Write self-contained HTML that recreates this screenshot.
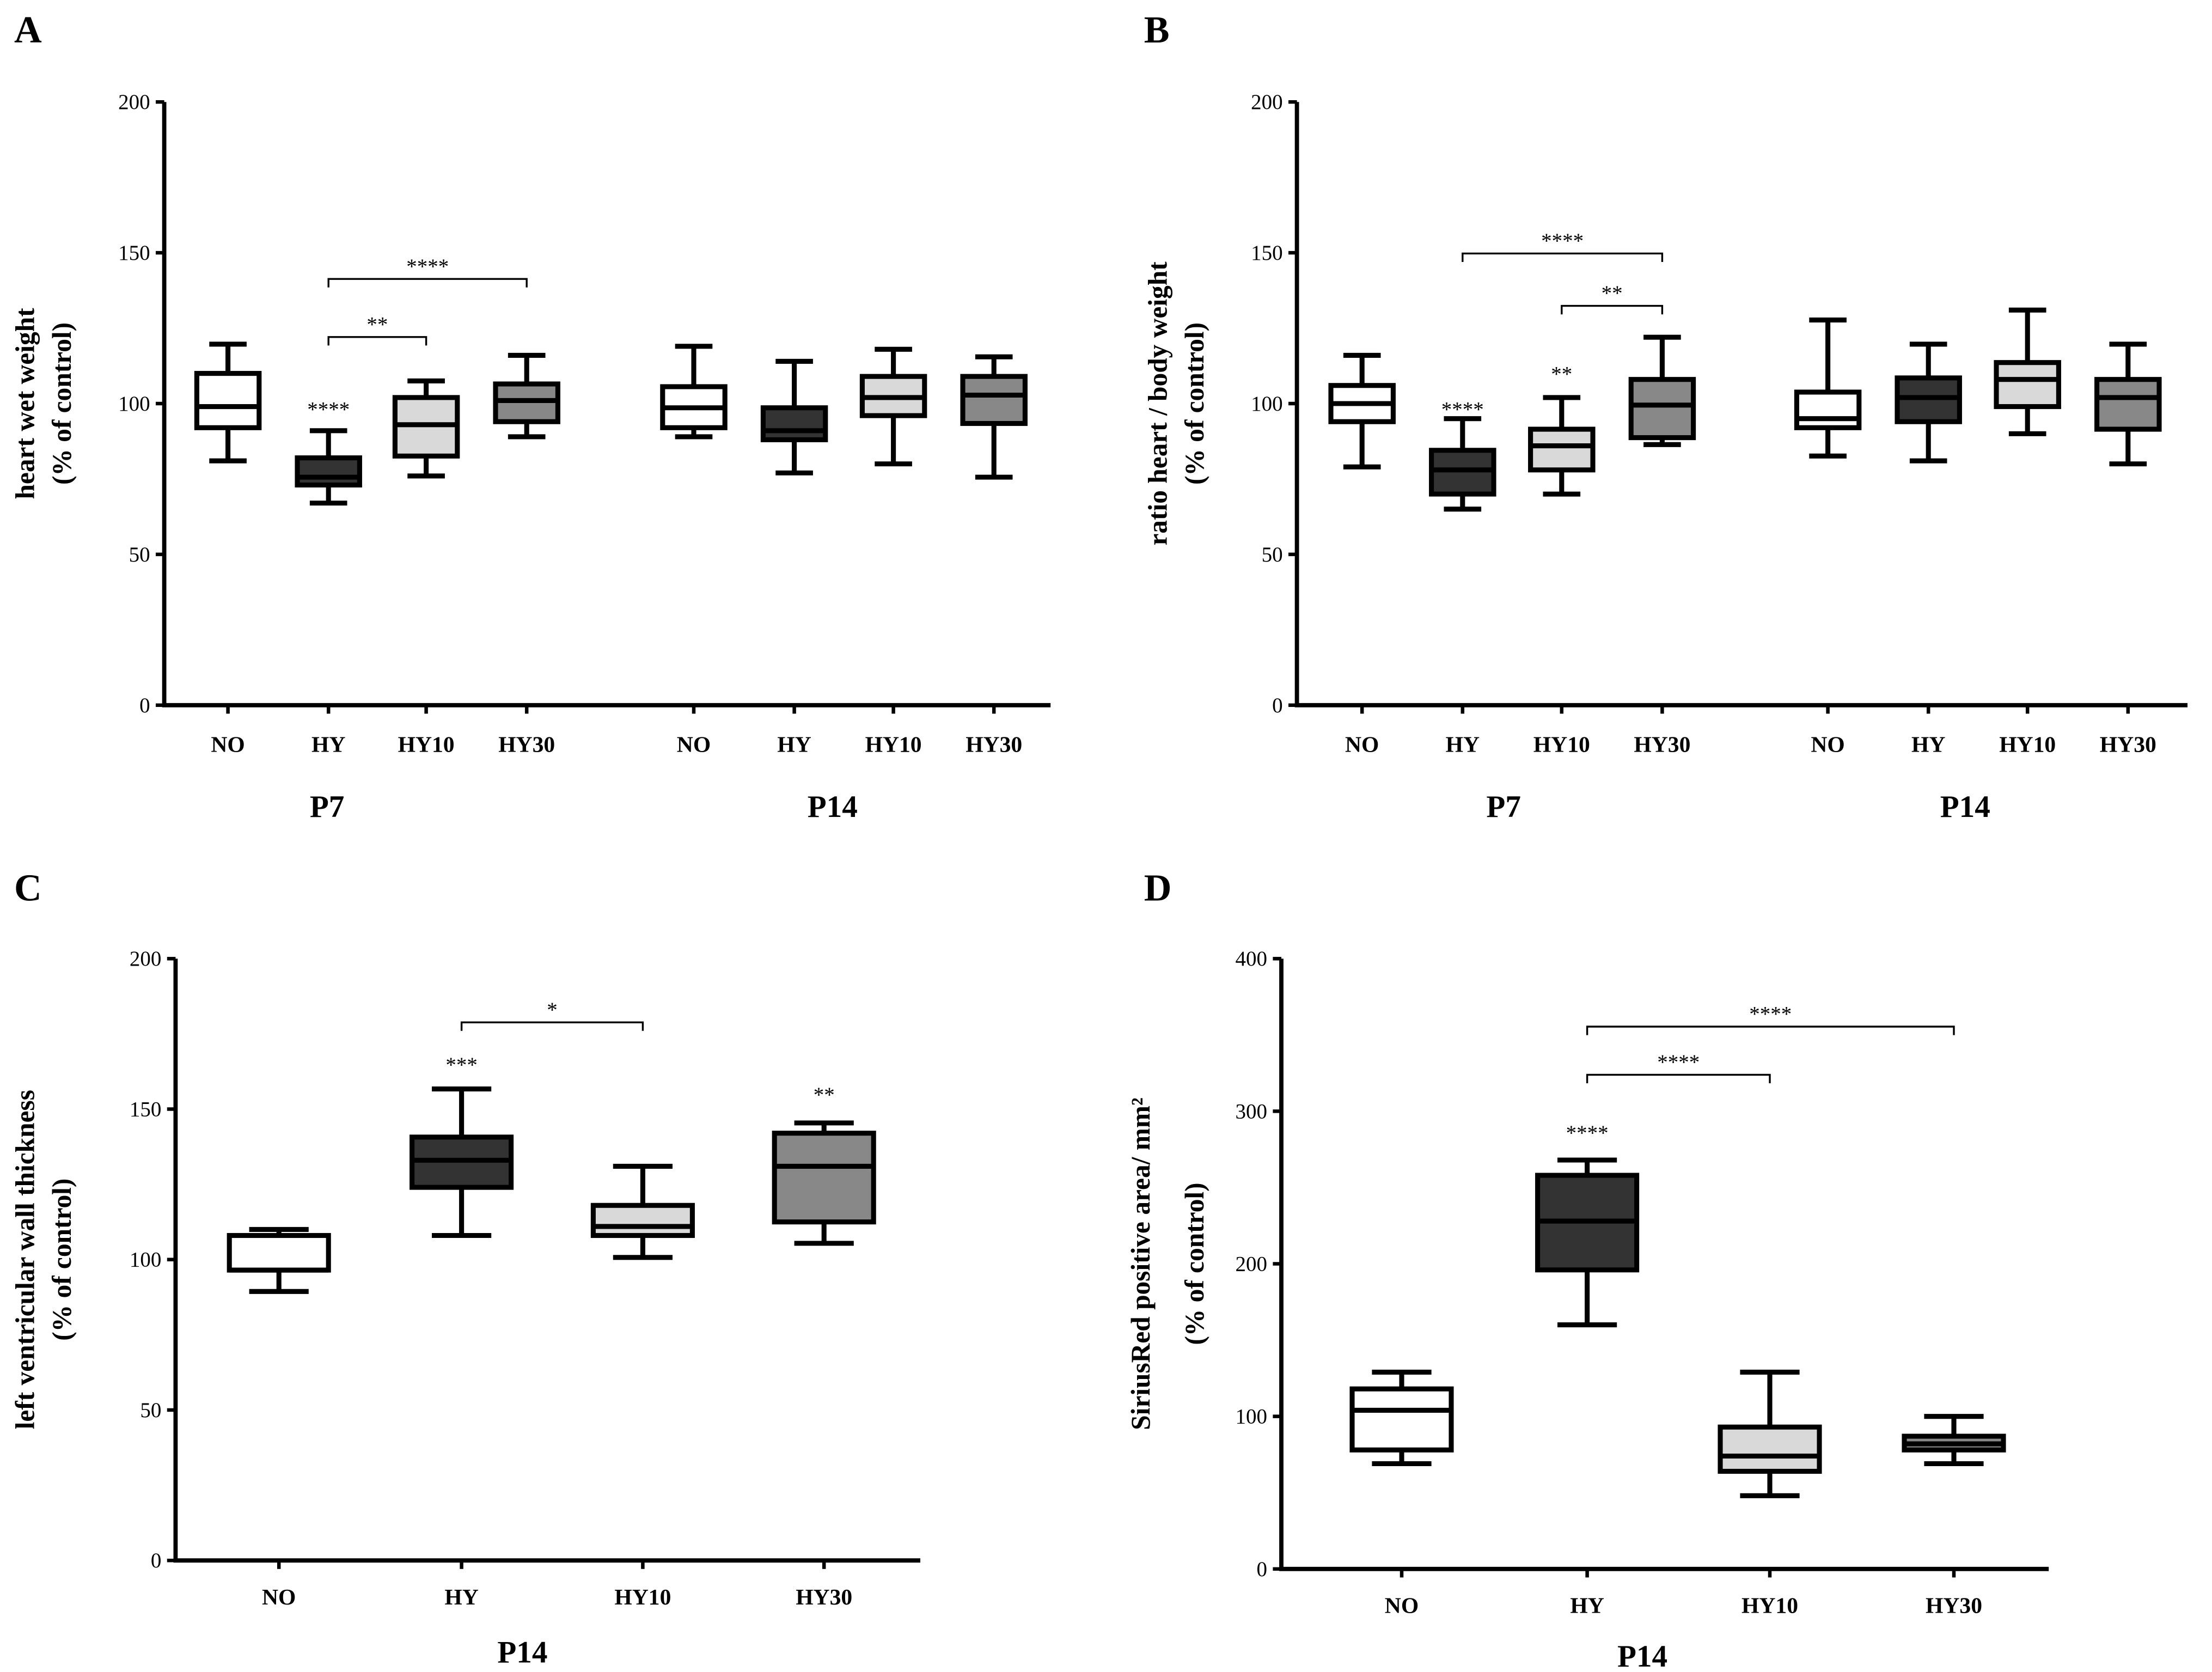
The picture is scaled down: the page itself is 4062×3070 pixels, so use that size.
<!DOCTYPE html>
<html><head><meta charset="utf-8">
<style>
html,body{margin:0;padding:0;background:#fff;}
svg{display:block;}
text{font-family:"Liberation Serif",serif;fill:#000;}
</style></head>
<body>
<svg id="fig" xmlns="http://www.w3.org/2000/svg" width="4062" height="3070" viewBox="0 0 4062 3070">
<rect width="4062" height="3070" fill="#fff"/>
<g id="root" transform="scale(2.6)"></g>
</svg>
<script>
// ---- data ----
const catsAB = ["NO","HY","HY10","HY30","NO","HY","HY10","HY30"];
const catsCD = ["NO","HY","HY10","HY30"];
const fillsAB = ["#ffffff","#333333","#d9d9d9","#888888","#ffffff","#333333","#d9d9d9","#888888"];
const fillsCD = ["#ffffff","#333333","#d9d9d9","#888888"];
// [min, q1, median, q3, max]
const boxesA = [[81,92,99,110,119.7],[67,73,75.6,82,91],[76,82.6,93,102,107.5],[89,94,101,106.5,116],
                [89,92,98.6,105.6,119],[77,88,91,98.6,114],[80,96,102,109,118],[75.6,93.4,102.8,109,115.5]];
const boxesB = [[79,94,100,106,116],[65,70,78,84.5,95],[70,78,86,91.5,102],[86.4,88.7,99.5,108,122],
                [82.6,92,95,103.8,127.7],[81,94,102,108.5,119.7],[90,99,108,113.6,131],[80,91.5,102,108,119.7]];
const boxesC = [[89.4,96.5,96.5,108,110],[108,124,133,140.7,156.7],[100.7,108,111,118,131],[105.4,112.5,131,142,145.4]];
const boxesD = [[69,78,104,118,129],[160,196,228,258,268],[48,64,74,93,129],[69,78,82,87,100]];
const ticksAB = [0,50,100,150,200];
const ticksC = [0,50,100,150,200];
const ticksD = [0,100,200,300,400];
const NS = "http://www.w3.org/2000/svg";
const root = document.getElementById("root");
function el(tag, attrs, parent, txt){
  const e = document.createElementNS(NS, tag);
  for (const k in attrs) e.setAttribute(k, attrs[k]);
  if (txt !== undefined) e.textContent = txt;
  (parent||root).appendChild(e);
  return e;
}
function panel(cfg){
  const g = el("g", {});
  
  
  const y = v => cfg.y0 - (v - cfg.vmin) / (cfg.vmax - cfg.vmin) * (cfg.y0 - cfg.y1);
  const ax = el("path", {d:`M${cfg.ax} ${cfg.y1} V${cfg.y0} H${cfg.axEnd}`, stroke:"#000","stroke-width":3, fill:"none"}, g);
  
  
  cfg.ticks.forEach(t => {
    el("line", {x1:cfg.ax-6, x2:cfg.ax, y1:y(t), y2:y(t), stroke:"#000","stroke-width":2.5}, g);
    const tl = el("text", {x:cfg.ax-10, y:y(t)+5, "text-anchor":"end","font-size":15}, g, t);
    
    
  });
  cfg.cats.forEach((c,i) => {
    const cx = cfg.xs[i];
    el("line", {x1:cx, x2:cx, y1:cfg.y0, y2:cfg.y0+6, stroke:"#000","stroke-width":2.5}, g);
    const cl = el("text", {x:cx, y:cfg.y0+cfg.catOff, "text-anchor":"middle","font-size":16,"font-weight":"bold"}, g, c);
    
    
    const b = cfg.boxes[i], hw = cfg.bw/2, cw = cfg.bw*0.3;
    const bg = el("g", {stroke:"#000","stroke-width":3.5}, g);
    
    
    el("line", {x1:cx, x2:cx, y1:y(b[0]), y2:y(b[4])}, bg);
    el("line", {x1:cx-cw, x2:cx+cw, y1:y(b[0]), y2:y(b[0])}, bg);
    el("line", {x1:cx-cw, x2:cx+cw, y1:y(b[4]), y2:y(b[4])}, bg);
    el("rect", {x:cx-hw, y:y(b[3]), width:cfg.bw, height:y(b[1])-y(b[3]), fill:cfg.fills[i]}, bg);
    el("line", {x1:cx-hw, x2:cx+hw, y1:y(b[2]), y2:y(b[2])}, bg);
  });
  (cfg.groups||[]).forEach(gr => {
    const t = el("text", {x:gr[1], y:cfg.y0+cfg.grpOff, "text-anchor":"middle","font-size":22,"font-weight":"bold"}, g, gr[0]);
    
    
  });
  (cfg.brackets||[]).forEach(br => {
    const x1 = cfg.xs[br[0]], x2 = cfg.xs[br[1]], by = br[2];
    const p = el("path", {d:`M${x1} ${by+6} V${by} H${x2} V${by+6}`, stroke:"#000","stroke-width":1.3, fill:"none"}, g);
    
    
    const t = el("text", {x:(x1+x2)/2, y:by-4, "text-anchor":"middle","font-size":15}, g, br[3]);
    
    
  });
  (cfg.stars||[]).forEach(s => {
    const t = el("text", {x:cfg.xs[s[0]], y:s[1], "text-anchor":"middle","font-size":15}, g, s[2]);
    
    
  });
  const my = (cfg.y0 + cfg.y1)/2;
  cfg.titles.forEach(tt => {
    const t = el("text", {x:0, y:0, transform:`translate(${tt[0]},${my}) rotate(-90)`, "text-anchor":"middle","font-size":19,"font-weight":"bold"}, g, tt[1]);
    
    
  });
  const L = el("text", {x:cfg.letter[0], y:cfg.letter[1], "font-size":27,"font-weight":"bold"}, g, cfg.letter[2]);
  
  
}
panel({name:"panel-a", ax:116, axEnd:742, y0:498, y1:72, vmin:0, vmax:200, ticks:ticksAB, cats:catsAB, fills:fillsAB, boxes:boxesA,
  xs:[161,232,301,372,490,561,631,702], bw:44, groups:[["P7",231],["P14",588]], catOff:33, grpOff:79,
  brackets:[[1,3,197,"****"],[1,2,238,"**"]], stars:[[1,294,"****"]],
  titles:[[24,"heart wet weight"],[50,"(% of control)"]], letter:[10,30,"A"]});
panel({name:"panel-b", ax:916, axEnd:1545, y0:498, y1:72, vmin:0, vmax:200, ticks:ticksAB, cats:catsAB, fills:fillsAB, boxes:boxesB,
  xs:[962,1033,1103,1174,1291,1362,1432,1503], bw:44, groups:[["P7",1062],["P14",1388]], catOff:33, grpOff:79,
  brackets:[[1,3,179,"****"],[2,3,216,"**"]], stars:[[1,294,"****"],[2,269,"**"]],
  titles:[[824,"ratio heart / body weight"],[850,"(% of control)"]], letter:[808,30,"B"]});
panel({name:"panel-c", ax:124, axEnd:650, y0:1102, y1:677, vmin:0, vmax:200, ticks:ticksC, cats:catsCD, fills:fillsCD, boxes:boxesC,
  xs:[197,326,454,582], bw:70, groups:[["P14",369]], catOff:31, grpOff:72,
  brackets:[[1,2,722,"*"]], stars:[[1,757,"***"],[3,778,"**"]],
  titles:[[24,"left ventricular wall thickness"],[50,"(% of control)"]], letter:[10,636,"C"]});
panel({name:"panel-d", ax:905, axEnd:1447, y0:1108, y1:677, vmin:0, vmax:400, ticks:ticksD, cats:catsCD, fills:fillsCD, boxes:boxesD,
  xs:[990,1121,1250,1380], bw:70, groups:[["P14",1160]], catOff:31, grpOff:69,
  brackets:[[1,3,725,"****"],[1,2,759,"****"]], stars:[[1,805,"****"]],
  titles:[[812,"SiriusRed positive area/ mm\u00B2"],[850,"(% of control)"]], letter:[808,636,"D"]});
</script>
</body></html>
